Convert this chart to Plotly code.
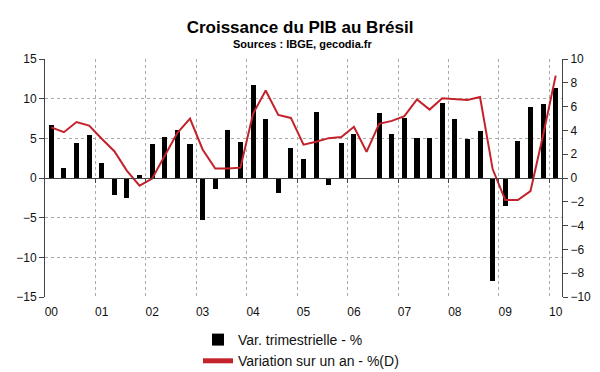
import plotly.graph_objects as go

# Quarters 2000Q1 .. 2010Q1
quarters = [f"{y}T{q}" for y in range(2000, 2011) for q in range(1, 5)][:41]
year_labels = ["00", "01", "02", "03", "04", "05", "06", "07", "08", "09", "10"]

# Quarterly variation (annualised), % - left axis
var_trim = [6.7, 1.3, 4.4, 5.4, 1.9, -2.2, -2.5, 0.4,
            4.3, 5.2, 6.1, 4.3, -5.3, -1.35, 6.1, 4.5,
            11.7, 7.4, -1.95, 3.8, 2.4, 8.3, -0.9, 4.4,
            5.6, -0.1, 8.2, 5.6, 7.6, 5.1, 5.1, 9.4,
            7.4, 4.9, 5.9, -13.0, -3.5, 4.7, 9.0, 9.3,
            11.4]

# Year-on-year variation, % - right axis
var_an = [4.25, 3.85, 4.7, 4.4, 3.3, 2.25, 0.6, -0.65,
          -0.05, 1.9, 3.8, 5.0, 2.4, 0.8, 0.8, 0.87,
          5.4, 7.35, 5.3, 5.05, 2.8, 3.05, 3.35, 3.45,
          4.3, 2.2, 4.55, 4.8, 5.2, 6.6, 5.75, 6.7,
          6.65, 6.55, 6.8, 0.75, -1.85, -1.85, -1.1, 3.6,
          8.6]

n = len(quarters)
xpos = list(range(n))
label_pos = [4 * k for k in range(len(year_labels))]
grid_pos = [4 * k - 0.5 for k in range(1, len(year_labels))]

FONT = "Liberation Sans, Arial, sans-serif"
AXIS_COL = "#444444"

# the page body has an 8px margin: the figure is 592x364 so that it fills the 600x372 window
W, H, OFF = 592, 364, 8

fig = go.Figure()
fig.add_trace(go.Bar(
    x=xpos, y=var_trim, name="Var. trimestrielle - %",
    marker=dict(color="black", line=dict(width=0)), width=0.4,
    yaxis="y", customdata=quarters,
))
fig.add_trace(go.Scatter(
    x=xpos, y=var_an, name="Variation sur un an - %(D)",
    mode="lines", line=dict(color="#C4222B", width=2),
    yaxis="y2", customdata=quarters,
))
# invisible trace to host the zero-level axis with year tick marks
fig.add_trace(go.Scatter(x=[xpos[0]], y=[0], xaxis="x2", yaxis="y",
                         mode="markers", marker=dict(opacity=0),
                         showlegend=False, hoverinfo="skip"))

fig.update_layout(
    width=W, height=H,
    margin=dict(l=45 - OFF, r=600 - 562, t=59 - OFF, b=372 - 297, autoexpand=False),
    paper_bgcolor="white", plot_bgcolor="white",
    font=dict(family=FONT, size=12, color="#111111"),
    bargap=0,
    title=dict(text="<b>Croissance du PIB au Brésil</b>", x=(300 - OFF) / W, xanchor="center",
               y=1 - (27 - OFF) / H, yanchor="middle",
               font=dict(family=FONT, size=17, color="black")),
    annotations=[dict(text="<b>Sources : IBGE, gecodia.fr</b>", xref="paper", yref="paper",
                      x=(302 - 45) / 517, y=(297 - 44) / 238, xanchor="center", yanchor="middle",
                      showarrow=False, font=dict(family=FONT, size=11, color="black"))],
    xaxis=dict(
        range=[-0.5, n - 0.5], tickvals=label_pos, ticktext=year_labels,
        showgrid=False, ticks="", showline=False, zeroline=False,
        ticklabelstandoff=6, automargin=False,
        minor=dict(tickvals=grid_pos, showgrid=True, gridcolor="#aaaaaa",
                   griddash="dot", gridwidth=1, ticks=""),
    ),
    xaxis2=dict(
        range=[-0.5, n - 0.5], overlaying="x", anchor="free", position=0.5,
        tickvals=grid_pos, showticklabels=False, ticks="outside", ticklen=4,
        tickcolor=AXIS_COL, showline=True, linecolor=AXIS_COL, linewidth=1,
        showgrid=False, zeroline=False, automargin=False,
    ),
    yaxis=dict(
        range=[-15, 15], tickvals=[-15, -10, -5, 0, 5, 10, 15],
        showgrid=True, gridcolor="#aaaaaa", griddash="dot", gridwidth=1,
        zeroline=False, showline=True, linecolor=AXIS_COL, linewidth=1,
        ticks="outside", ticklen=5, tickcolor=AXIS_COL, automargin=False,
    ),
    yaxis2=dict(
        range=[-10, 10], tickvals=list(range(-10, 11, 2)), overlaying="y", side="right",
        showgrid=False, zeroline=False, showline=True, linecolor=AXIS_COL, linewidth=1,
        ticks="outside", ticklen=5, tickcolor=AXIS_COL, automargin=False,
    ),
    legend=dict(orientation="v", xref="container", yref="container",
                x=(198 - OFF) / W, xanchor="left", y=1 - (324 - OFF) / H, yanchor="top",
                font=dict(family=FONT, size=14, color="#111111"),
                bgcolor="rgba(0,0,0,0)", tracegroupgap=0, itemsizing="constant"),
    showlegend=True,
)

fig.write_html("out.html")
